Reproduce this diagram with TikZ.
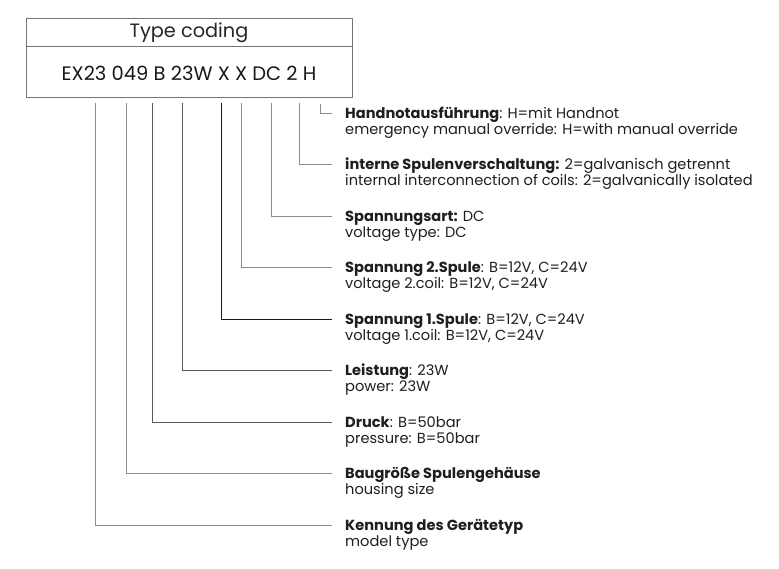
\documentclass[tikz,border=0pt]{standalone}
\usepackage{fontspec}
\setmainfont{Poppins}
\begin{document}
\begin{tikzpicture}[x=1pt,y=-1pt,
  lbl/.style={anchor=base west,inner sep=0pt,font=\fontsize{14.6}{16}\selectfont,text=black!88},
  conn/.style={draw=black!45,line width=0.9pt},
  connd/.style={draw=black!65,line width=0.9pt},
  connb/.style={draw=black!90,line width=1pt},
  boxline/.style={draw=black!55,line width=0.9pt}]
\useasboundingbox[fill=white] (0,0) rectangle (779,568);
% header box
\draw[boxline] (26.5,18) rectangle (352,97);
\draw[boxline] (26.5,46) -- (352,46);
\node[anchor=base,inner sep=0pt,font=\fontsize{19.3}{22}\selectfont,text=black!85] (title) at (189,37.5) {Type coding};
\node[anchor=base,inner sep=0pt,font=\fontsize{19.5}{24}\selectfont,text=black!90] (code) at (189,80) {EX23 049 B 23W X X DC 2 H};
% labels
\def\tx{345}
\node[lbl] (a1) at (\tx,118) {\textbf{Handnotausführung}: H=mit Handnot};
\node[lbl] (b1) at (\tx,134) {emergency manual override: H=with manual override};
\node[lbl] (a2) at (\tx,169.5) {\textbf{interne Spulenverschaltung:} 2=galvanisch getrennt};
\node[lbl] (b2) at (\tx,185.5) {internal interconnection of coils: 2=galvanically isolated};
\node[lbl] (a3) at (\tx,221) {\textbf{Spannungsart:} DC};
\node[lbl] (b3) at (\tx,237) {voltage type: DC};
\node[lbl] (a4) at (\tx,272.5) {\textbf{Spannung 2.Spule}: B=12V, C=24V};
\node[lbl] (b4) at (\tx,288.5) {voltage 2.coil: B=12V, C=24V};
\node[lbl] (a5) at (\tx,324) {\textbf{Spannung 1.Spule}: B=12V, C=24V};
\node[lbl] (b5) at (\tx,340) {voltage 1.coil: B=12V, C=24V};
\node[lbl] (a6) at (\tx,375.5) {\textbf{Leistung}: 23W};
\node[lbl] (b6) at (\tx,391.5) {power: 23W};
\node[lbl] (a7) at (\tx,427) {\textbf{Druck}: B=50bar};
\node[lbl] (b7) at (\tx,443) {pressure: B=50bar};
\node[lbl] (a8) at (\tx,478.5) {\textbf{Baugröße Spulengehäuse}};
\node[lbl] (b8) at (\tx,494.5) {housing size};
\node[lbl] (a9) at (\tx,530) {\textbf{Kennung des Gerätetyp}};
\node[lbl] (b9) at (\tx,546) {model type};
% connector start points
\coordinate (s1) at (320,104);
\coordinate (s2) at (299,103);
\coordinate (s3) at (271,103);
\coordinate (s4) at (241,103);
\coordinate (s5) at (221,103);
\coordinate (s6) at (182,103);
\coordinate (s7) at (152,103);
\coordinate (s8) at (126,103);
\coordinate (s9) at (95,103);
% connector end points
\coordinate (e1) at (332,113);
\coordinate (e2) at (332,164.5);
\coordinate (e3) at (332,216);
\coordinate (e4) at (332,267.5);
\coordinate (e5) at (332,319);
\coordinate (e6) at (332,370.5);
\coordinate (e7) at (332,422);
\coordinate (e8) at (332,473.5);
\coordinate (e9) at (332,525);
\draw[conn] (s1) |- (e1);
\draw[conn] (s2) |- (e2);
\draw[conn] (s3) |- (e3);
\draw[conn] (s4) |- (e4);
\draw[connb] (s5) |- (e5);
\draw[connd] (s6) |- (e6);
\draw[connd] (s7) |- (e7);
\draw[conn] (s8) |- (e8);
\draw[conn] (s9) |- (e9);
\end{tikzpicture}
\end{document}
